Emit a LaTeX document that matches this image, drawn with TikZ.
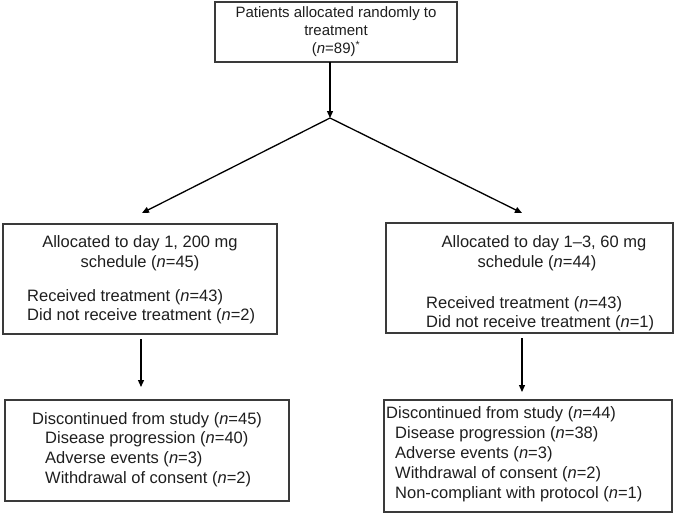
\documentclass[tikz,border=0pt]{standalone}
\usepackage{fontspec}
\setmainfont{Liberation Sans}
\usetikzlibrary{arrows.meta,calc}
\definecolor{boxgray}{HTML}{3A3A3A}
\definecolor{txtgray}{HTML}{1E1E1E}
\begin{document}
\begin{tikzpicture}[x=1pt,y=-1pt,
  box/.style={draw=boxgray, line width=1.1pt, inner sep=0pt, outer sep=0pt},
  txt/.style={font=\fontsize{16.5}{19}\selectfont, text=txtgray, inner sep=0pt},
  ttxt/.style={font=\fontsize{15}{17}\selectfont, text=txtgray, inner sep=0pt},
  arr/.style={-{Triangle[length=7pt,width=6pt]}, line width=1.3pt, draw=black}]
\useasboundingbox (0,0) rectangle (676,516);
% boxes
\node[box, minimum width=242pt, minimum height=60pt] (top) at (336,32) {};
\node[box, minimum width=274pt, minimum height=110pt] (midL) at (140,279) {};
\node[box, minimum width=287pt, minimum height=110pt] (midR) at (529.5,278) {};
\node[box, minimum width=284pt, minimum height=101pt] (botL) at (147,450.5) {};
\node[box, minimum width=288pt, minimum height=112pt] (botR) at (528,456) {};
% top text
\node[ttxt, anchor=base] (t1) at (336,18) {Patients allocated randomly to};
\node[ttxt, anchor=base] (t2) at (336,36) {treatment};
\node[ttxt, anchor=base] (t3) at (336,54) {(\textit{n}=89)\textsuperscript{*}};
% middle left
\node[txt, anchor=base] (ml1) at (140,247) {Allocated to day 1, 200 mg};
\node[txt, anchor=base] (ml2) at (140,267) {schedule (\textit{n}=45)};
\node[txt, anchor=base west] (ml3) at (27,301) {Received treatment (\textit{n}=43)};
\node[txt, anchor=base west] (ml4) at (27,320) {Did not receive treatment (\textit{n}=2)};
% middle right
\node[txt, anchor=base] (mr1) at (544,247) {Allocated to day 1--3, 60 mg};
\node[txt, anchor=base] (mr2) at (537,267) {schedule (\textit{n}=44)};
\node[txt, anchor=base west] (mr3) at (426,308) {Received treatment (\textit{n}=43)};
\node[txt, anchor=base west] (mr4) at (426,327) {Did not receive treatment (\textit{n}=1)};
% bottom left
\node[txt, anchor=base west] (bl1) at (32,424) {Discontinued from study (\textit{n}=45)};
\node[txt, anchor=base west] (bl2) at (45,443) {Disease progression (\textit{n}=40)};
\node[txt, anchor=base west] (bl3) at (45,463) {Adverse events (\textit{n}=3)};
\node[txt, anchor=base west] (bl4) at (45,483) {Withdrawal of consent (\textit{n}=2)};
% bottom right
\node[txt, anchor=base west] (br1) at (386,418) {Discontinued from study (\textit{n}=44)};
\node[txt, anchor=base west] (br2) at (395,438) {Disease progression (\textit{n}=38)};
\node[txt, anchor=base west] (br3) at (395,458) {Adverse events (\textit{n}=3)};
\node[txt, anchor=base west] (br4) at (395,478) {Withdrawal of consent (\textit{n}=2)};
\node[txt, anchor=base west] (br5) at (395,498) {Non-compliant with protocol (\textit{n}=1)};
% connectors
\coordinate (split) at (330,118);
\coordinate (tipL) at (142,213);
\coordinate (tipR) at (522,213);
\coordinate (downL) at (141,0);
\coordinate (downR) at (522,0);
\draw[arr] (split |- top.south) -- (split);
\draw[arr] (split) -- (tipL);
\draw[arr] (split) -- (tipR);
\draw[arr, shorten <=5pt, shorten >=13pt] (midL.south -| downL) -- (botL.north -| downL);
\draw[arr, shorten <=5pt, shorten >=8pt] (midR.south -| downR) -- (botR.north -| downR);
\end{tikzpicture}
\end{document}
